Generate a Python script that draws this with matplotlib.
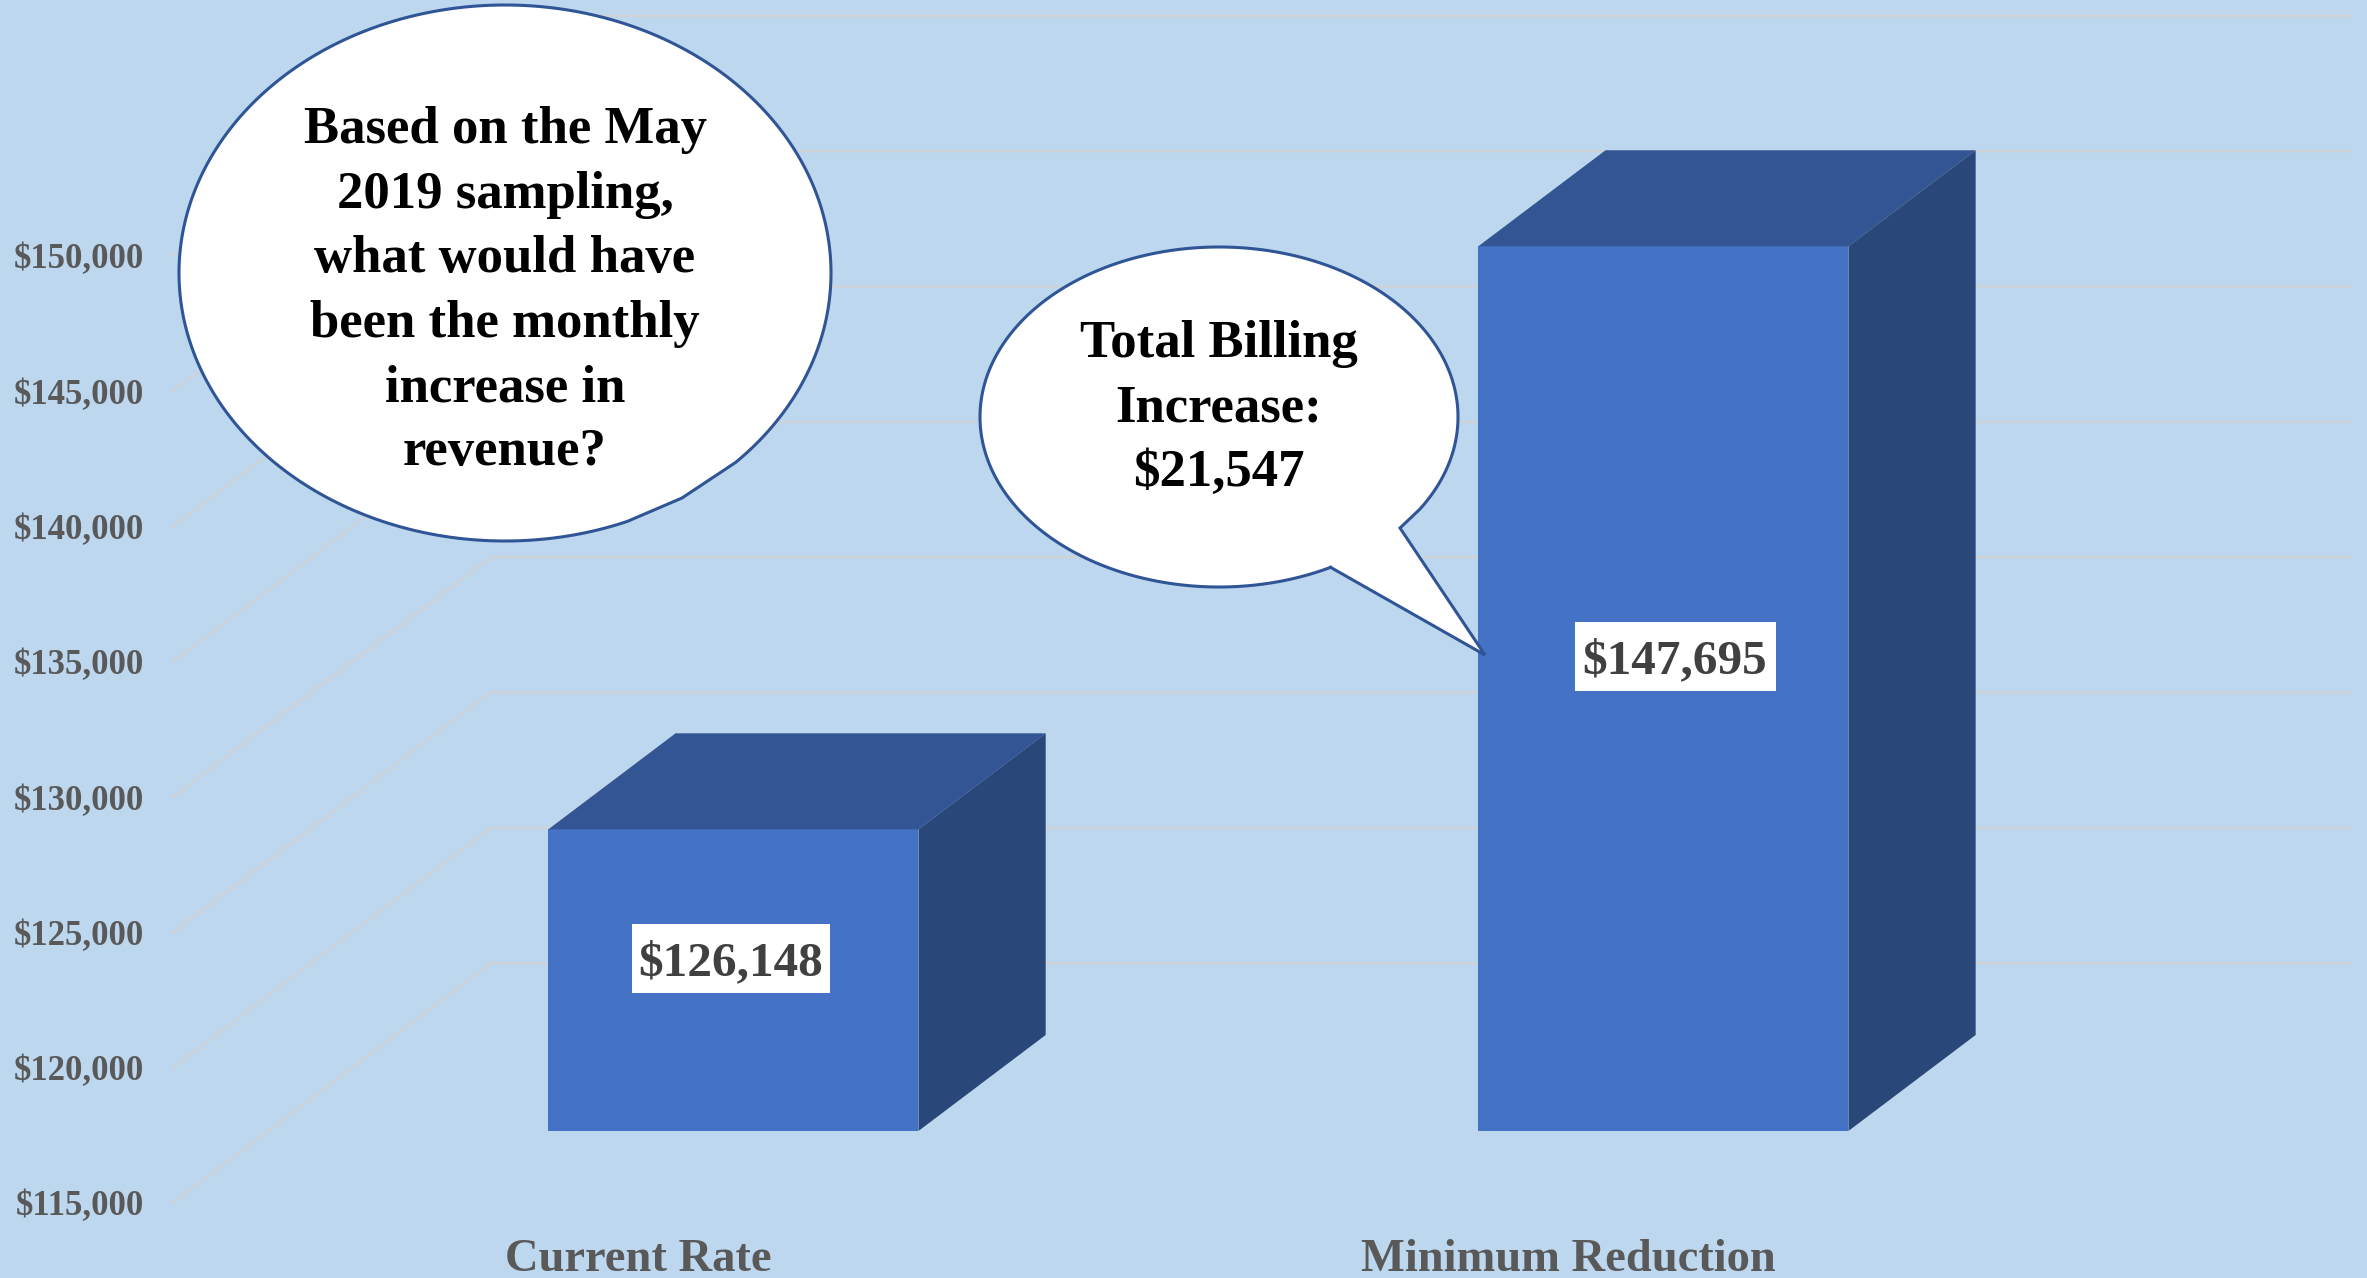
import numpy as np
import matplotlib
matplotlib.use('Agg')
import matplotlib.pyplot as pl
from matplotlib.patches import Polygon, Rectangle
from matplotlib.transforms import Affine2D

categories = ['Current Rate', 'Minimum Reduction']
billing = [126148, 147695]
yticks = [115000, 120000, 125000, 130000, 135000, 140000, 145000, 150000]

question = ['Based on the May', '2019 sampling,', 'what would have',
            'been the monthly', 'increase in', 'revenue?']
answer = ['Total Billing', 'Increase:', '$21,547']

W, H = 2367, 1278
BG = '#BDD7EE'
FRONT, TOP, SIDE = '#4472C4', '#335593', '#2A4779'
GRID = '#D0D2D4'
LINE = '#2F5597'
FONT = 'Liberation Serif'

# oblique projection: how far the back wall is shifted from the front axis
DX = 0.342
DV = 8870.
BAR_W = 0.398
D0, D1 = 0.3, 0.7   # depth of the bars between front and back wall

pl.rcParams['font.family'] = FONT
pl.rcParams['font.weight'] = 'bold'

fig = pl.figure(figsize=(W/100., H/100.), dpi=100, facecolor=BG)
ax = fig.add_axes([173./W, (H-1203.)/H, 2178./W, 1203./H])
ax.patch.set_visible(False)
for s in ax.spines.values():
    s.set_visible(False)

ax.set_xlim(-0.5, 1.5+DX)
ax.set_ylim(115000, 115000+1203*5000/135.3)

# pixel coordinates for the shapes laid over the chart
px = Affine2D().scale(1./W, -1./H).translate(0, 1) + fig.transFigure

for v in yticks:
    ax.plot([-0.5, -0.5+DX, 1.5+DX], [v, v+DV, v+DV],
            color=GRID, lw=1.5, zorder=1, clip_on=False,
            solid_joinstyle='miter')

base = yticks[0]
xs = np.arange(len(categories))
ax.bar(xs+D0*DX, np.array(billing)-base, width=BAR_W, bottom=base+D0*DV,
       color=FRONT, zorder=3)

for x, v in zip(xs, billing):
    xl = x-BAR_W/2
    xr = x+BAR_W/2
    # top face
    ax.fill([xl+D0*DX, xr+D0*DX, xr+D1*DX, xl+D1*DX],
            [v+D0*DV, v+D0*DV, v+D1*DV, v+D1*DV],
            color=TOP, lw=0, zorder=3)
    # side face
    ax.fill([xr+D0*DX, xr+D1*DX, xr+D1*DX, xr+D0*DX],
            [base+D0*DV, base+D1*DV, v+D1*DV, v+D0*DV],
            color=SIDE, lw=0, zorder=3)

ax.set_yticks(yticks)
ax.set_yticklabels(['${:,}'.format(v) for v in yticks],
                   fontsize=25, color='#595959')
ax.tick_params(axis='y', length=0, pad=21)
ax.set_xticks(xs)
ax.set_xticklabels(categories, fontsize=33.5, color='#595959')
ax.tick_params(axis='x', length=0, pad=26)

# value labels
label_pos = [(731, 958), (1675, 656)]
for (cx, cy), v, bw, bh in zip(label_pos, billing, [198, 201], [69, 69]):
    fig.add_artist(Rectangle((cx-bw/2., cy-bh/2.), bw, bh, fc='white', ec='none',
                             transform=px, zorder=5))
    fig.text(cx, cy, '${:,}'.format(v), transform=px, ha='center', va='center_baseline',
             fontsize=35.5, color='#404040', zorder=6)


def bubble(cx, cy, w, h, t_start, t_end, extra):
    # ellipse outline, the arc from t_start to t_end replaced by straight points
    t = np.linspace(t_end, t_start+360, 300)
    pts = [(cx+w/2.*np.cos(np.radians(a)), cy+h/2.*np.sin(np.radians(a))) for a in t]
    pts = pts+extra
    fig.add_artist(Polygon(pts, closed=True, fc='white', ec=LINE, lw=2.2,
                           transform=px, zorder=5, joinstyle='miter'))


# angles run clockwise on screen, 0 = right, 90 = bottom
bubble(505, 273, 652, 536, 45, 68, [(682, 498)])
bubble(1219, 417, 478, 340, 33, 62, [(1400, 528), (1485, 655), (1330, 567)])

for i, s in enumerate(question):
    fig.text(505, 125+i*64.4, s, transform=px, ha='center', va='center_baseline',
             fontsize=38, color='black', zorder=6)
for i, s in enumerate(answer):
    fig.text(1219, 339+i*64, s, transform=px, ha='center', va='center_baseline',
             fontsize=38, color='black', zorder=6)

fig.savefig('out.png', dpi=100, facecolor=BG)
